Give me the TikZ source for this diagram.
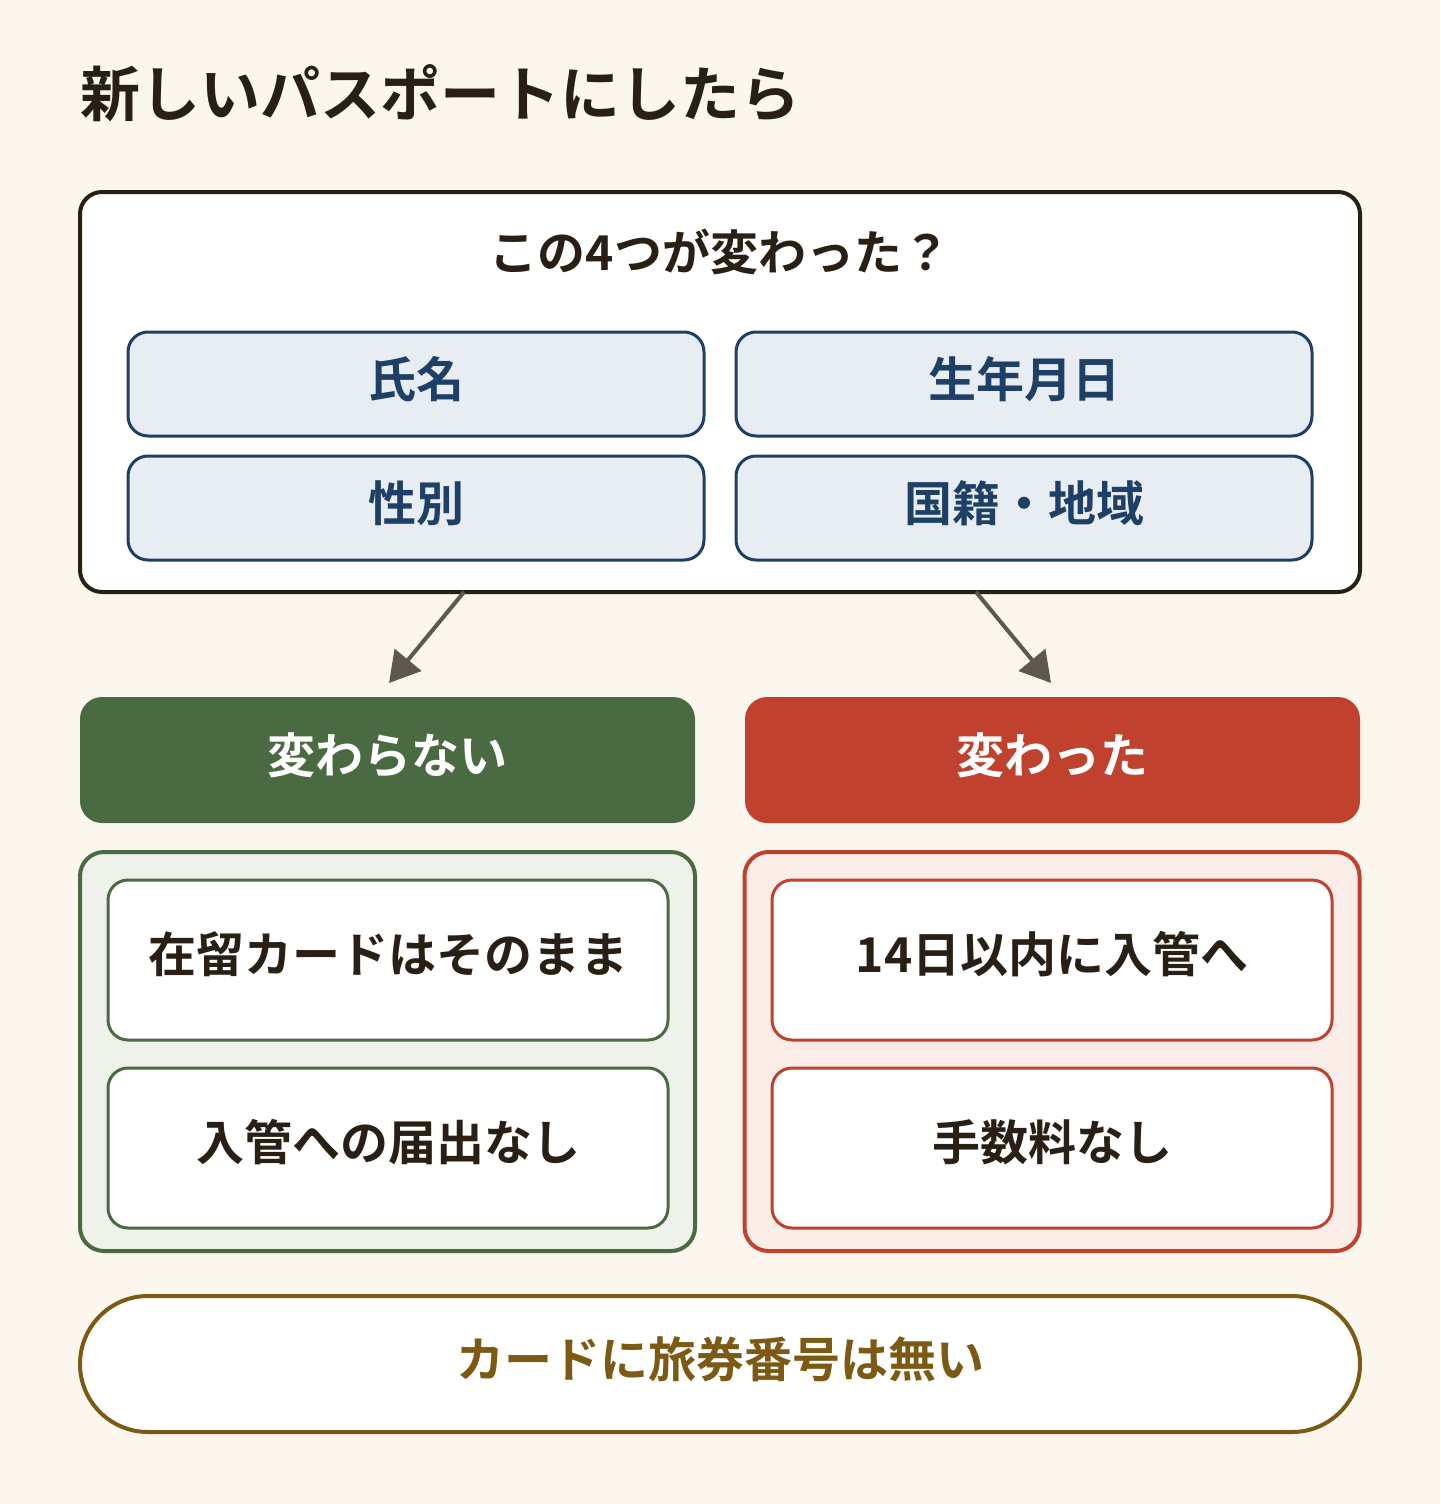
\documentclass[tikz,border=0pt]{standalone}
\usepackage{fontspec}
\setmainfont{Noto Sans CJK JP}[BoldFont={Noto Sans CJK JP Bold}]
\usetikzlibrary{arrows.meta}
\definecolor{bgc}{HTML}{FBF7EE}
\definecolor{ink}{HTML}{2A1F14}
\definecolor{navy}{HTML}{1F4066}
\definecolor{navyfill}{HTML}{E8EDF4}
\definecolor{grn}{HTML}{4A6B42}
\definecolor{grnfill}{HTML}{EEF2EA}
\definecolor{red}{HTML}{C0412E}
\definecolor{redfill}{HTML}{FAEDE8}
\definecolor{gold}{HTML}{7D5A14}
\definecolor{arr}{HTML}{5F574C}
\begin{document}
\begin{tikzpicture}[x=1pt,y=-1pt,
  txt/.style={font=\fontsize{48}{50}\selectfont\bfseries,inner sep=0pt},
  item/.style={draw=navy,fill=navyfill,line width=3pt,rounded corners=20pt,minimum width=576pt,minimum height=104pt,inner sep=0pt},
  hdr/.style={rounded corners=22pt,minimum width=615pt,minimum height=126pt,inner sep=0pt},
  panel/.style={line width=4pt,rounded corners=24pt,minimum width=615pt,minimum height=399pt,inner sep=0pt},
  inbox/.style={fill=white,line width=3pt,rounded corners=20pt,minimum width=560pt,minimum height=160pt,inner sep=0pt},
  conn/.style={draw=arr,line width=4pt,-{Triangle[length=30pt,width=34pt]}}
]
\useasboundingbox (0,0) rectangle (1440,1504);
\fill[bgc] (0,0) rectangle (1440,1504);
\node[anchor=base west,text=ink,font=\fontsize{60}{64}\selectfont\bfseries,inner sep=0pt] (title) at (80,116) {新しいパスポートにしたら};
\node[draw=ink,fill=white,line width=4pt,rounded corners=22pt,minimum width=1280pt,minimum height=400pt,inner sep=0pt] (outer) at (720,392) {};
\node[txt,text=ink] (q) at (720,252) {この4つが変わった？};
\node[item] (n1) at (416,384) {};
\node[item] (n2) at (1024,384) {};
\node[item] (n3) at (416,508) {};
\node[item] (n4) at (1024,508) {};
\node[txt,text=navy] (n1t) at ([yshift=5pt]n1.center) {氏名};
\node[txt,text=navy] (n2t) at ([yshift=5pt]n2.center) {生年月日};
\node[txt,text=navy] (n3t) at ([yshift=5pt]n3.center) {性別};
\node[txt,text=navy] (n4t) at ([yshift=5pt]n4.center) {国籍・地域};
\node[hdr,fill=grn] (hs) at (387.5,760) {};
\node[hdr,fill=red] (hc) at (1052.5,760) {};
\node[txt,text=white] (hst) at ([yshift=5pt]hs.center) {変わらない};
\node[txt,text=white] (hct) at ([yshift=5pt]hc.center) {変わった};
\coordinate (a1) at (464,592);
\coordinate (a2) at (976,592);
\coordinate (t1) at (389,683);
\coordinate (t2) at (1051,683);
\draw[conn] (a1) -- (t1);
\draw[conn] (a2) -- (t2);
\node[panel,draw=grn,fill=grnfill] (ps) at (387.5,1051.5) {};
\node[panel,draw=red,fill=redfill] (pc) at (1052,1051.5) {};
\node[inbox,draw=grn] (s1) at (388,960) {};
\node[inbox,draw=grn] (s2) at (388,1148) {};
\node[inbox,draw=red] (c1) at (1052,960) {};
\node[inbox,draw=red] (c2) at (1052,1148) {};
\node[txt,text=ink] (s1t) at ([yshift=6pt]s1.center) {在留カードはそのまま};
\node[txt,text=ink] (s2t) at ([yshift=6pt]s2.center) {入管への届出なし};
\node[txt,text=ink] (c1t) at ([yshift=6pt]c1.center) {14日以内に入管へ};
\node[txt,text=ink] (c2t) at ([yshift=6pt]c2.center) {手数料なし};
\node[draw=gold,fill=white,line width=4pt,rounded corners=68pt,minimum width=1280pt,minimum height=136pt,inner sep=0pt] (foot) at (720,1364) {};
\node[txt,text=gold] (foott) at ([yshift=5pt]foot.center) {カードに旅券番号は無い};
\end{tikzpicture}
\end{document}
